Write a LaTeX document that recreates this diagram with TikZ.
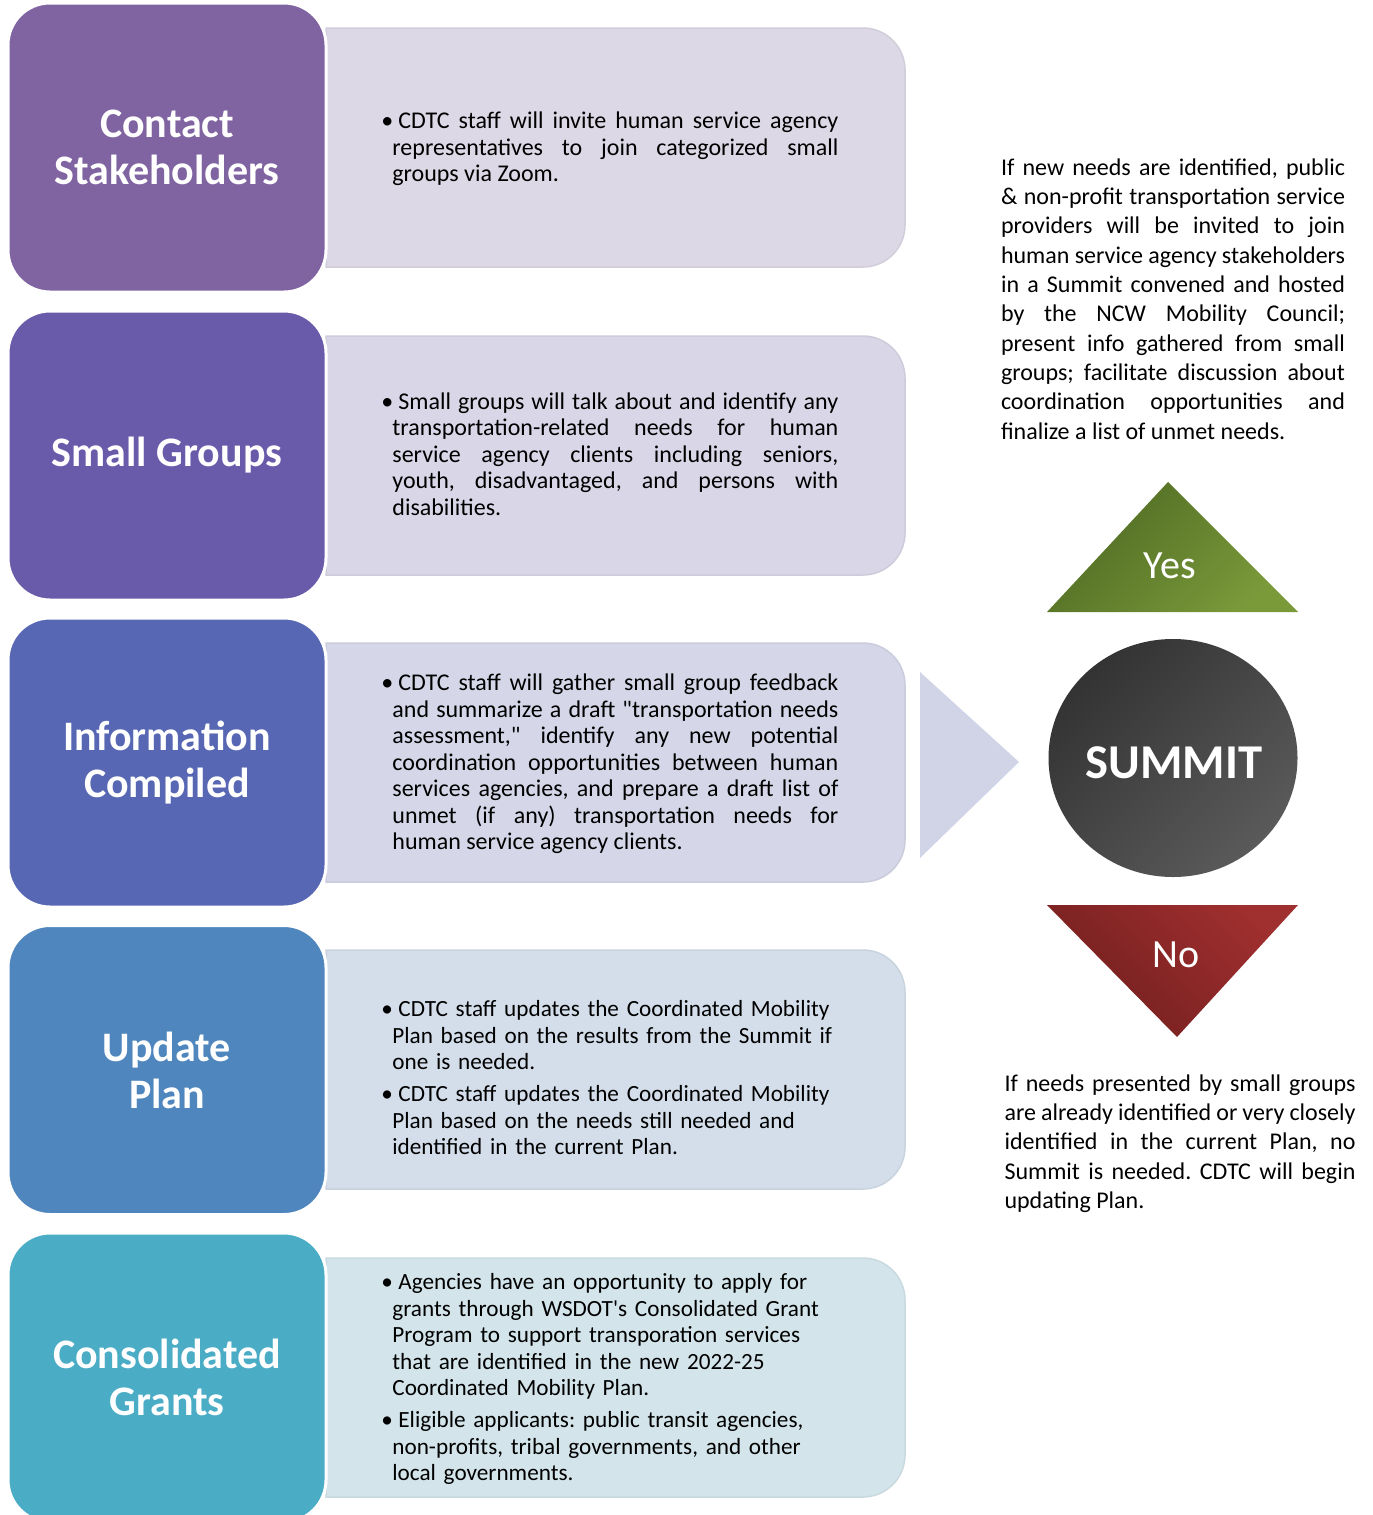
\documentclass[tikz,border=0pt]{standalone}
\usepackage{fontspec}
\setmainfont{Carlito}[Ligatures=TeXOff]
\usetikzlibrary{shapes.geometric}
\definecolor{c1}{HTML}{8064A2}
\definecolor{c2}{HTML}{6A5BAA}
\definecolor{c3}{HTML}{5767B3}
\definecolor{c4}{HTML}{4F86BE}
\definecolor{c5}{HTML}{4BACC6}
\definecolor{r1}{HTML}{DCD8E5}
\definecolor{r2}{HTML}{D9D7E7}
\definecolor{r3}{HTML}{D5D7E8}
\definecolor{r4}{HTML}{D4DEEA}
\definecolor{r5}{HTML}{D3E5EB}
\definecolor{arrowc}{HTML}{D0D4E6}
\definecolor{yesdark}{HTML}{4F6A23}
\definecolor{yeslight}{HTML}{7A9A3A}
\definecolor{nodark}{HTML}{721E1E}
\definecolor{nolight}{HTML}{A02F2F}
\definecolor{sumdark}{HTML}{333333}
\definecolor{sumlight}{HTML}{5A5A5A}
\newcommand{\bul}{\makebox[8.5pt][l]{\textbullet}}
\newcommand{\hangpar}{\hangindent=5.5pt\hangafter=1\noindent}
\frenchspacing
\begin{document}
\begin{tikzpicture}[x=0.5pt,y=0.5pt,
  lbox/.style={rectangle, rounded corners=21pt, minimum width=159pt, minimum height=144.5pt,
    draw=white, line width=1.5pt, text=white, align=center,
    font=\fontsize{21}{23.5}\selectfont\bfseries, inner sep=0pt},
  btext/.style={anchor=west, inner sep=0pt, text width=228.5pt,
    font=\fontsize{12}{13.25}\selectfont},
  bltext/.style={anchor=west, inner sep=0pt, text width=240pt, align=left,
    font=\fontsize{11.6}{13.25}\selectfont},
  stext/.style={inner sep=0pt, font=\fontsize{12}{14.65}\selectfont, align=justify},
  tritext/.style={text=white, inner sep=0pt, font=\fontsize{20}{24}\selectfont},
]
\useasboundingbox (0,0) rectangle (1372,-1515);
\clip (0,0) rectangle (1372,-1515);

% right (description) boxes
\foreach \t/\c in {28/r1,336/r2,643/r3,950/r4,1258/r5}{
  \path[fill=\c, draw=\c!95!black, line width=0.75pt]
    (326,-\t) -- (863,-\t) arc[start angle=90,end angle=0,radius=42]
    -- (905,{-\t-197}) arc[start angle=0,end angle=-90,radius=42]
    -- (326,{-\t-239}) -- cycle;
}

% left (step) boxes
\node[lbox, fill=c1] (s1) at (167,-147.5) {Contact\\Stakeholders};
\node[lbox, fill=c2] (s2) at (167,-455.5) {Small Groups};
\node[lbox, fill=c3] (s3) at (167,-762.5) {Information\\Compiled};
\node[lbox, fill=c4] (s4) at (167,-1070) {Update\\Plan};
\node[lbox, fill=c5] (s5) at (167,-1377.5) {Consolidated\\Grants};

% texts in right boxes
\node[btext, align=justify] (t1) at (381,-149) {\hangpar\bul CDTC staff will invite human service agency\linebreak representatives to join categorized small\linebreak groups via Zoom.\par};
\node[btext, align=justify] (t2) at (381,-454) {\hangpar\bul Small groups will talk about and identify any\linebreak transportation-related needs for human\linebreak service agency clients including seniors,\linebreak youth, disadvantaged, and persons with\linebreak disabilities.\par};
\node[btext, align=justify] (t3) at (381,-764) {\hangpar\bul CDTC staff will gather small group feedback\linebreak and summarize a draft "transportation needs\linebreak assessment," identify any new potential\linebreak coordination opportunities between human\linebreak services agencies, and prepare a draft list of\linebreak unmet (if any) transportation needs for\linebreak human service agency clients.\par};
\node[bltext] (t4) at (381,-1078) {\setlength{\parskip}{2.75pt}\hangpar\bul CDTC staff updates the Coordinated Mobility\newline Plan based on the results from the Summit if\newline one is needed.\par
\hangpar\bul CDTC staff updates the Coordinated Mobility\newline Plan based on the needs still needed and\newline identified in the current Plan.\par};
\node[bltext] (t5) at (381,-1379) {\setlength{\parskip}{2.75pt}\hangpar\bul Agencies have an opportunity to apply for\newline grants through WSDOT's Consolidated Grant\newline Program to support transporation services\newline that are identified in the new 2022-25\newline Coordinated Mobility Plan.\par
\hangpar\bul Eligible applicants: public transit agencies,\newline non-profits, tribal governments, and other\newline local governments.\par};

% arrow toward summit
\fill[arrowc] (920,-672) -- (1019,-762) -- (920,-858) -- cycle;

% yes triangle
\shade[top color=yesdark, bottom color=yeslight, shading angle=45]
  (1047,-612) -- (1168,-482) -- (1298,-612) -- cycle;
\node[tritext] (yes) at (1170,-566) {Yes};

% summit
\node[ellipse, minimum width=124.5pt, minimum height=119pt, inner sep=0pt,
  top color=sumdark, bottom color=sumlight, shading angle=45] (summit) at (1173,-758) {};
\node[text=white, inner sep=0pt, font=\fontsize{24.3}{28}\selectfont\bfseries] (summitlbl) at (1174,-763) {SUMMIT};

% no triangle
\shade[top color=nolight, bottom color=nodark, shading angle=-45]
  (1047,-905) -- (1298,-905) -- (1177,-1037) -- cycle;
\node[tritext] (no) at (1176,-955) {No};

% side notes
\node[stext, text width=172pt] (yesnote) at (1173,-299) {If new needs are identified, public\linebreak \& non-profit transportation service\linebreak providers will be invited to join\linebreak human service agency stakeholders\linebreak in a Summit convened and hosted\linebreak by the NCW Mobility Council;\linebreak present info gathered from small\linebreak groups; facilitate discussion about\linebreak coordination opportunities and\linebreak finalize a list of unmet needs.\par};
\node[stext, text width=175.5pt] (nonote) at (1180,-1143.5) {If needs presented by small groups\linebreak are already identified or very closely\linebreak identified in the current Plan, no\linebreak Summit is needed. CDTC will begin\linebreak updating Plan.\par};
\end{tikzpicture}
\end{document}
